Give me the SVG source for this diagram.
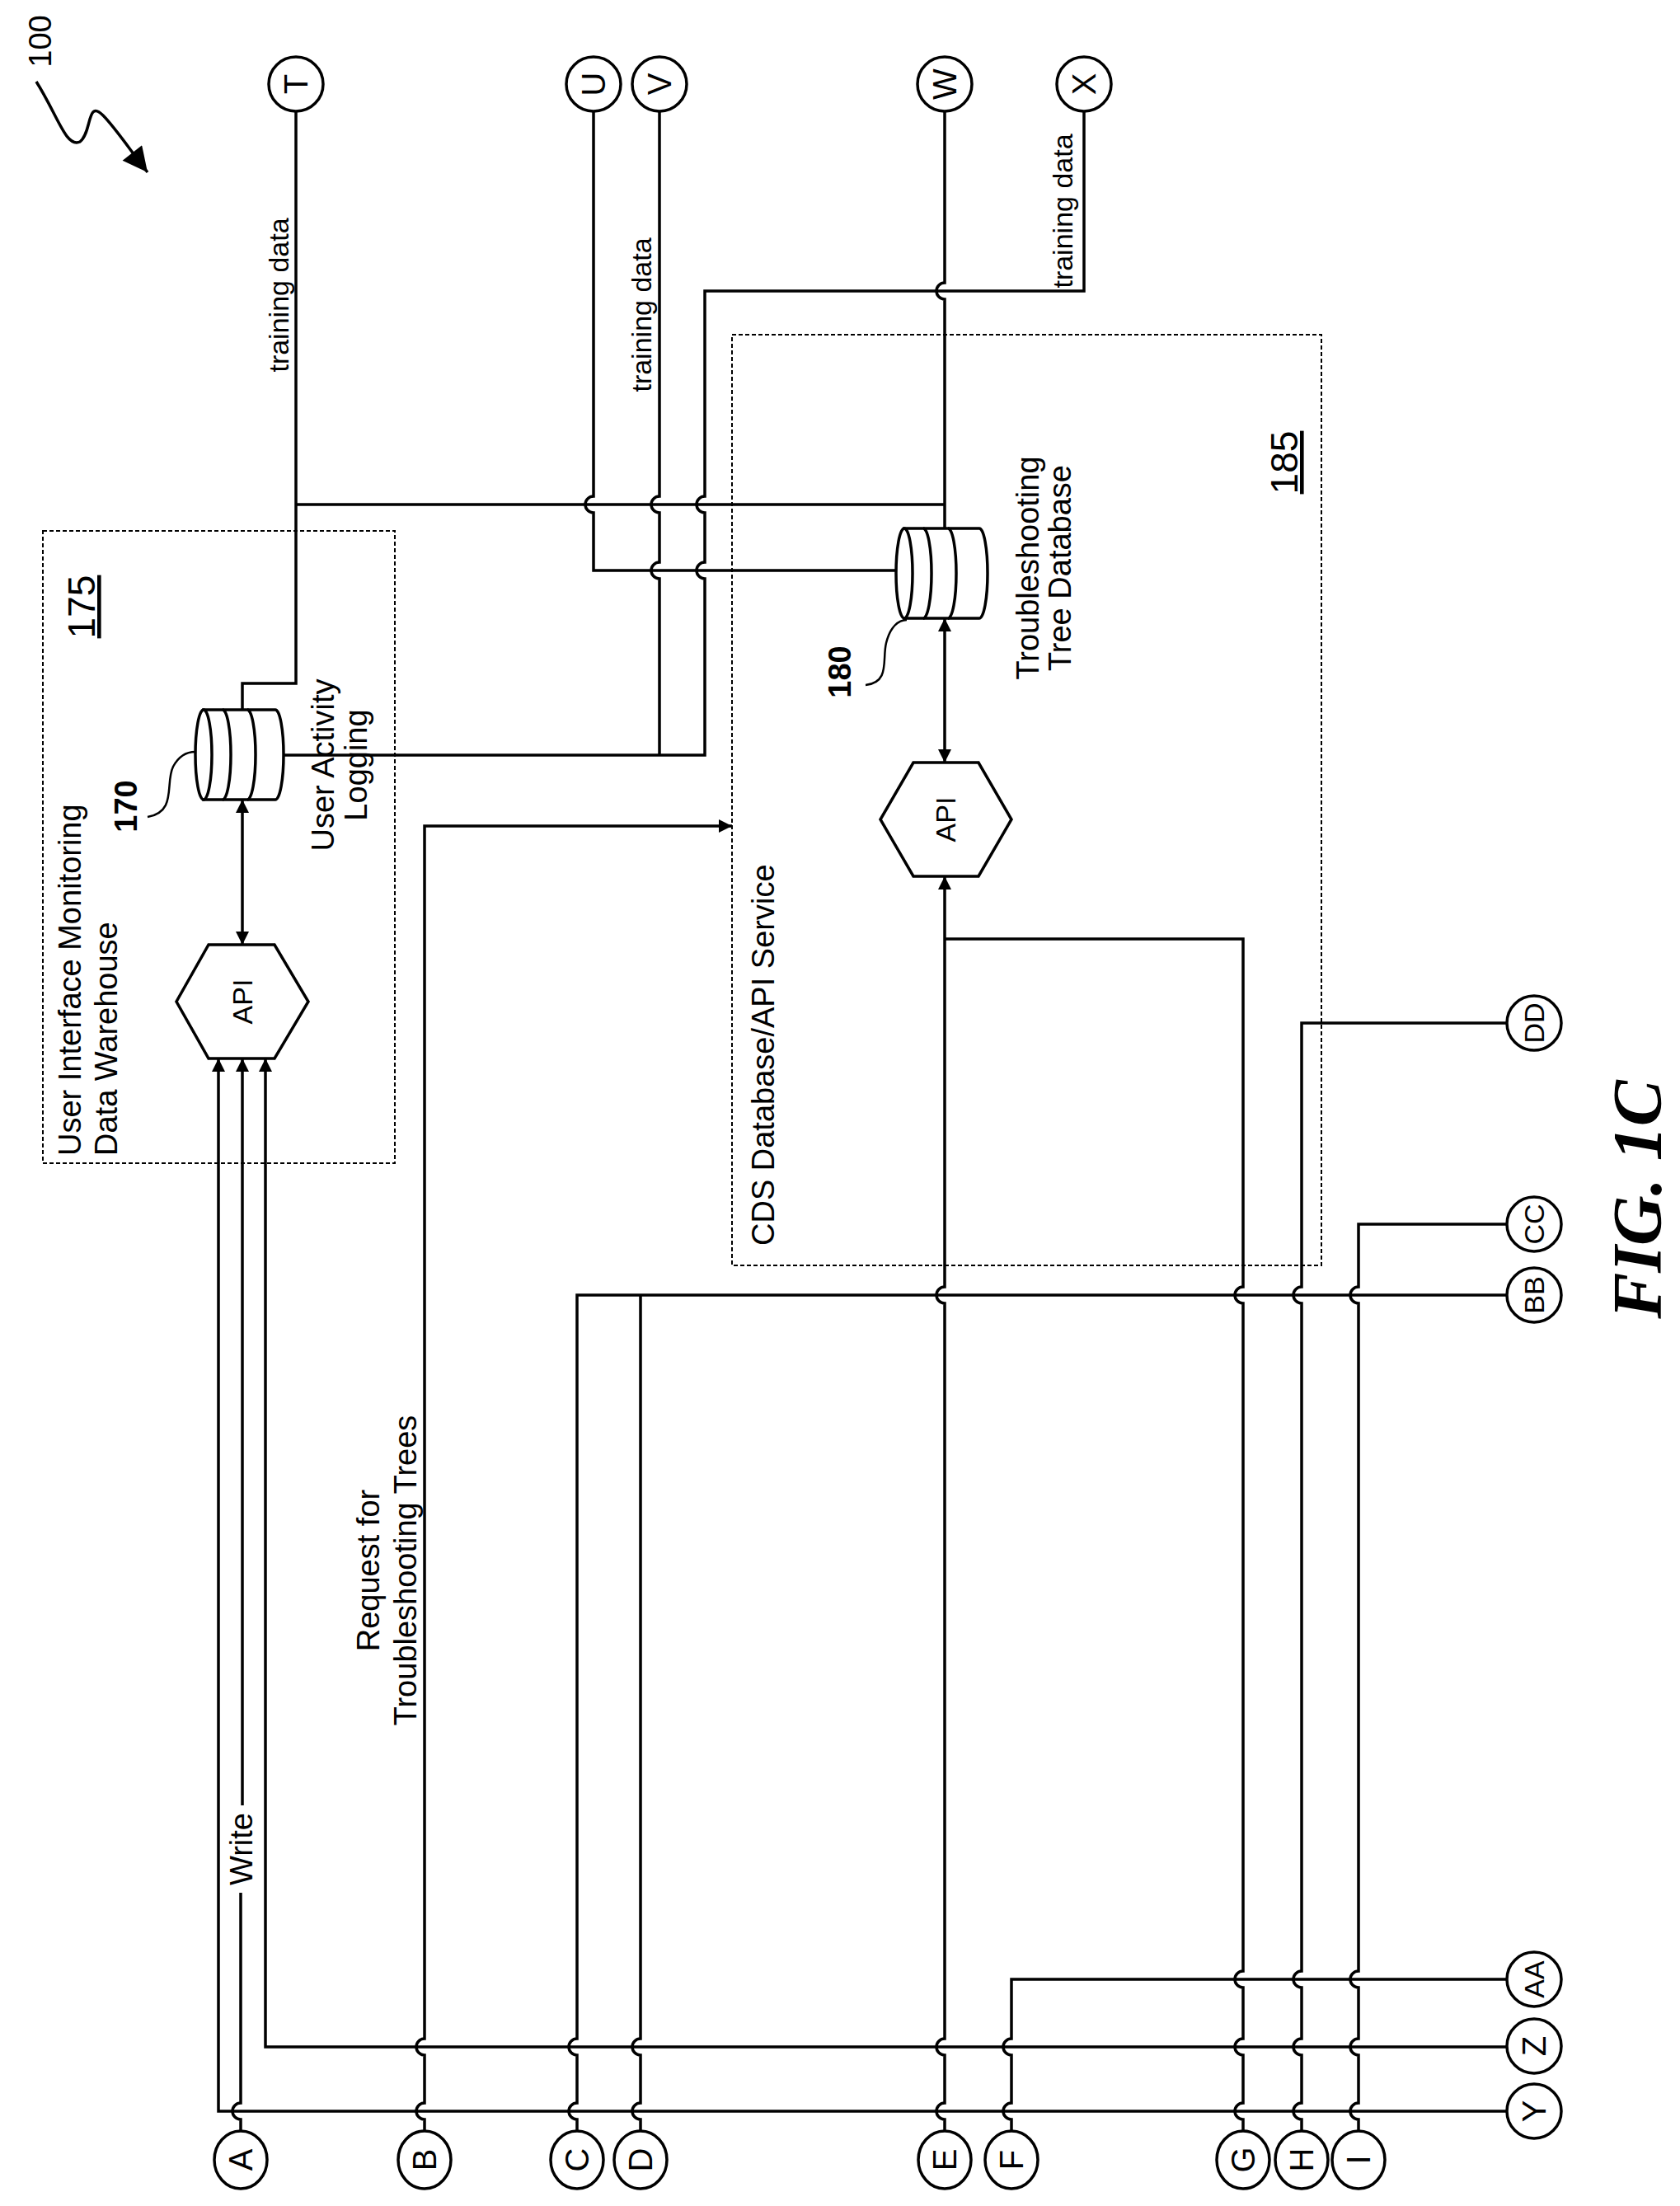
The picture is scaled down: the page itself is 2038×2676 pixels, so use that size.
<svg xmlns="http://www.w3.org/2000/svg" width="2038" height="2676" viewBox="0 0 2038 2676">
<defs>
<marker id="ah" viewBox="0 0 10 10" refX="10" refY="5" markerWidth="16" markerHeight="16" markerUnits="userSpaceOnUse" orient="auto-start-reverse"><path d="M0,0 L10,5 L0,10 z" fill="#000"/></marker>
<marker id="big" viewBox="0 0 10 10" refX="10" refY="5" markerWidth="34" markerHeight="30" markerUnits="userSpaceOnUse" orient="auto"><path d="M0,0 L10,5 L0,10 z" fill="#000"/></marker>
</defs>
<style>
.ln{fill:none;stroke:#000;stroke-width:3.5}
.sh{fill:#fff;stroke:#000;stroke-width:3.5}
.box{fill:none;stroke:#000;stroke-width:2;stroke-dasharray:5,3}
.t{font-family:"Liberation Sans",Arial,sans-serif;font-size:38px;fill:#000}
.td{font-family:"Liberation Sans",Arial,sans-serif;font-size:34px;fill:#000}
.c{font-family:"Liberation Sans",Arial,sans-serif;font-size:40px;fill:#000;text-anchor:middle;dominant-baseline:central}
.b{font-family:"Liberation Sans",Arial,sans-serif;font-size:38px;font-weight:bold;fill:#000}
</style>
<rect width="2038" height="2676" fill="#fff"/>
<g id="ref100">
<text class="t" transform="translate(62,50) rotate(-90)" text-anchor="middle">100</text>
<path class="ln" d="M44,99 C70,140 80,180 97,172 C112,160 105,120 125,140 C140,155 160,185 179,209" marker-end="url(#big)"/>
</g>
<g id="box175">
<rect class="box" x="52" y="644" width="427" height="767"/>
<text class="t" transform="translate(115,736) rotate(-90)" text-anchor="middle" style="font-size:46px" text-decoration="underline">175</text>
<text class="t" transform="translate(98,1402) rotate(-90)">User Interface Monitoring</text>
<text class="t" transform="translate(142,1402) rotate(-90)">Data Warehouse</text>
</g>
<g id="box185">
<rect class="box" x="888" y="406" width="715" height="1129"/>
<text class="t" transform="translate(1574,561) rotate(-90)" text-anchor="middle" style="font-size:46px" text-decoration="underline">185</text>
<text class="t" transform="translate(939,1511) rotate(-90)">CDS Database/API Service</text>
</g>
<g id="connectors">
<path class="ln" d="M359,135 V829 H294 V861"/>
<path class="ln" d="M359,612 H1146"/>
<path class="ln" d="M720,135 V602 A10,10 0 0 0 720,622 V692 H1087"/>
<path class="ln" d="M800,135 V602 A10,10 0 0 0 800,622 V682 A10,10 0 0 0 800,702 V916"/>
<path class="ln" d="M1315,135 V353 H855 V602 A10,10 0 0 0 855,622 V682 A10,10 0 0 0 855,702 V916 H344"/>
<path class="ln" d="M1146,135 V343 A10,10 0 0 0 1146,363 V641"/>
<path class="ln" d="M294,970 V1146" marker-start="url(#ah)" marker-end="url(#ah)"/>
<path class="ln" d="M1146,750 V925" marker-start="url(#ah)" marker-end="url(#ah)"/>
<path class="ln" d="M1828,2561 H265 V1284" marker-end="url(#ah)"/>
<path class="ln" d="M1828,2483 H322 V1284" marker-end="url(#ah)"/>
<path class="ln" d="M292,2587 V2571 A10,10 0 0 1 292,2551 V2296 M294,2190 V1284" marker-end="url(#ah)"/>
<path class="ln" d="M515,2587 V2571 A10,10 0 0 1 515,2551 V2493 A10,10 0 0 1 515,2473 V1002 H888" marker-end="url(#ah)"/>
<path class="ln" d="M1828,1571 H700 V2473 A10,10 0 0 0 700,2493 V2551 A10,10 0 0 0 700,2571 V2587"/>
<path class="ln" d="M777,1571 V2473 A10,10 0 0 0 777,2493 V2551 A10,10 0 0 0 777,2571 V2587"/>
<path class="ln" d="M1146,2587 V2571 A10,10 0 0 1 1146,2551 V2493 A10,10 0 0 1 1146,2473 V1581 A10,10 0 0 1 1146,1561 V1063" marker-end="url(#ah)"/>
<path class="ln" d="M1146,1139 H1508 V1561 A10,10 0 0 0 1508,1581 V2391 A10,10 0 0 0 1508,2411 V2473 A10,10 0 0 0 1508,2493 V2551 A10,10 0 0 0 1508,2571 V2587"/>
<path class="ln" d="M1828,1241 H1579 V1561 A10,10 0 0 0 1579,1581 V2391 A10,10 0 0 0 1579,2411 V2473 A10,10 0 0 0 1579,2493 V2551 A10,10 0 0 0 1579,2571 V2587"/>
<path class="ln" d="M1828,1485 H1648 V1561 A10,10 0 0 0 1648,1581 V2391 A10,10 0 0 0 1648,2411 V2473 A10,10 0 0 0 1648,2493 V2551 A10,10 0 0 0 1648,2571 V2587"/>
<path class="ln" d="M1828,2401 H1227 V2473 A10,10 0 0 0 1227,2493 V2551 A10,10 0 0 0 1227,2571 V2587"/>
<text class="td" transform="translate(350,358) rotate(-90)" text-anchor="middle">training data</text>
<text class="td" transform="translate(790,382) rotate(-90)" text-anchor="middle">training data</text>
<text class="td" transform="translate(1301,256) rotate(-90)" text-anchor="middle">training data</text>
<text class="t" transform="translate(306,2243) rotate(-90)" text-anchor="middle">Write</text>
<text class="t" transform="translate(460,1905) rotate(-90)" text-anchor="middle">Request for</text>
<text class="t" transform="translate(505,1905) rotate(-90)" text-anchor="middle">Troubleshooting Trees</text>
</g>
<g id="db170">
<path class="sh" d="M247,861 H334 A10,54.5 0 0 1 334,970 H247 Z"/>
<ellipse class="sh" cx="247" cy="915.5" rx="10" ry="54.5"/>
<path class="ln" d="M270,861 A10,54.5 0 0 1 270,970 M300,861 A10,54.5 0 0 1 300,970"/>
<text class="b" transform="translate(166,978) rotate(-90)" text-anchor="middle">170</text>
<path class="ln" d="M179,991 C215,985 200,950 210,930 C218,915 228,912 237,912" style="stroke-width:2.5"/>
<text class="t" transform="translate(405,928) rotate(-90)" text-anchor="middle">User Activity</text>
<text class="t" transform="translate(445,928) rotate(-90)" text-anchor="middle">Logging</text>
</g>
<g id="api1">
<polygon class="sh" points="253,1146 333,1146 374,1215 333,1284 253,1284 214,1215"/>
<text class="c" transform="translate(294,1215) rotate(-90)" style="font-size:34px">API</text>
</g>
<g id="db180">
<path class="sh" d="M1097,641 H1188 A10,54.5 0 0 1 1188,750 H1097 Z"/>
<ellipse class="sh" cx="1097" cy="695.5" rx="10" ry="54.5"/>
<path class="ln" d="M1120,641 A10,54.5 0 0 1 1120,750 M1150,641 A10,54.5 0 0 1 1150,750"/>
<text class="b" transform="translate(1032,815) rotate(-90)" text-anchor="middle">180</text>
<path class="ln" d="M1050,831 C1080,828 1070,800 1075,780 C1080,760 1090,752 1100,752" style="stroke-width:2.5"/>
<text class="t" transform="translate(1260,689) rotate(-90)" text-anchor="middle">Troubleshooting</text>
<text class="t" transform="translate(1299,689) rotate(-90)" text-anchor="middle">Tree Database</text>
</g>
<g id="api2">
<polygon class="sh" points="1108,925 1187,925 1227,994 1187,1063 1108,1063 1068,994"/>
<text class="c" transform="translate(1147,994) rotate(-90)" style="font-size:34px">API</text>
</g>
<g id="T"><circle class="sh" cx="359" cy="102" r="33"/><text class="c" transform="translate(359,102) rotate(-90)">T</text></g>
<g id="U"><circle class="sh" cx="720" cy="102" r="33"/><text class="c" transform="translate(720,102) rotate(-90)">U</text></g>
<g id="V"><circle class="sh" cx="800" cy="102" r="33"/><text class="c" transform="translate(800,102) rotate(-90)">V</text></g>
<g id="W"><circle class="sh" cx="1146" cy="102" r="33"/><text class="c" transform="translate(1146,102) rotate(-90)">W</text></g>
<g id="X"><circle class="sh" cx="1315" cy="102" r="33"/><text class="c" transform="translate(1315,102) rotate(-90)">X</text></g>
<g id="A"><ellipse class="sh" cx="292" cy="2620" rx="32" ry="35"/><text class="c" transform="translate(292,2620) rotate(-90)">A</text></g>
<g id="B"><ellipse class="sh" cx="515" cy="2620" rx="32" ry="35"/><text class="c" transform="translate(515,2620) rotate(-90)">B</text></g>
<g id="C"><ellipse class="sh" cx="700" cy="2620" rx="32" ry="35"/><text class="c" transform="translate(700,2620) rotate(-90)">C</text></g>
<g id="D"><ellipse class="sh" cx="777" cy="2620" rx="32" ry="35"/><text class="c" transform="translate(777,2620) rotate(-90)">D</text></g>
<g id="E"><ellipse class="sh" cx="1146" cy="2620" rx="32" ry="35"/><text class="c" transform="translate(1146,2620) rotate(-90)">E</text></g>
<g id="F"><ellipse class="sh" cx="1227" cy="2620" rx="32" ry="35"/><text class="c" transform="translate(1227,2620) rotate(-90)">F</text></g>
<g id="G"><ellipse class="sh" cx="1508" cy="2620" rx="32" ry="35"/><text class="c" transform="translate(1508,2620) rotate(-90)">G</text></g>
<g id="H"><ellipse class="sh" cx="1579" cy="2620" rx="32" ry="35"/><text class="c" transform="translate(1579,2620) rotate(-90)">H</text></g>
<g id="I"><ellipse class="sh" cx="1648" cy="2620" rx="32" ry="35"/><text class="c" transform="translate(1648,2620) rotate(-90)">I</text></g>
<g id="Y"><circle class="sh" cx="1861" cy="2561" r="33"/><text class="c" transform="translate(1861,2561) rotate(-90)">Y</text></g>
<g id="Z"><circle class="sh" cx="1861" cy="2482" r="33"/><text class="c" transform="translate(1861,2482) rotate(-90)">Z</text></g>
<g id="AA"><circle class="sh" cx="1861" cy="2401" r="33"/><text class="c" transform="translate(1861,2401) rotate(-90)" style="font-size:34px">AA</text></g>
<g id="BB"><circle class="sh" cx="1861" cy="1571" r="33"/><text class="c" transform="translate(1861,1571) rotate(-90)" style="font-size:34px">BB</text></g>
<g id="CC"><circle class="sh" cx="1861" cy="1485" r="33"/><text class="c" transform="translate(1861,1485) rotate(-90)" style="font-size:34px">CC</text></g>
<g id="DD"><circle class="sh" cx="1861" cy="1241" r="33"/><text class="c" transform="translate(1861,1241) rotate(-90)" style="font-size:34px">DD</text></g>
<text transform="translate(2015,1455) rotate(-90)" text-anchor="middle" style="font-family:'Liberation Serif','Times New Roman',serif;font-size:84px;font-weight:bold;font-style:italic">FIG. 1C</text>
</svg>
